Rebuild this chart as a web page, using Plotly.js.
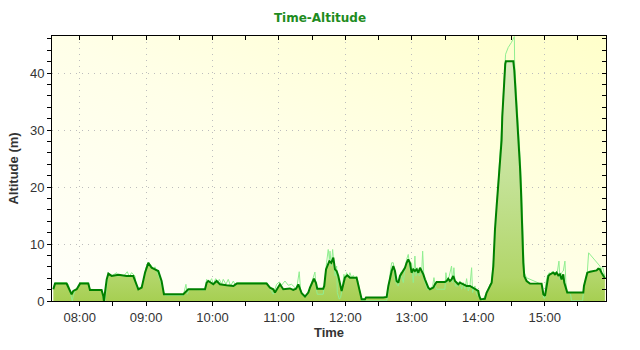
<!DOCTYPE html>
<html>
<head>
<meta charset="utf-8">
<script src="https://cdn.plot.ly/plotly-3.0.1.min.js"></script>
<style>html,body{margin:0;padding:0;background:#fff;}#chart{width:640px;height:350px;}</style>
</head>
<body>
<div id="chart"></div>
<script>
var day = '2024-01-01 ';
// Smoothed altitude (dark green, filled)
var smoothTimes = ['07:36:12','07:37:42','07:48:12','07:50:36','07:52:42','07:54:15','07:57:18','08:00:18','08:07:48','08:09:18','08:19:48','08:21:18','08:21:54','08:22:51','08:24:24','08:25:54','08:28:54','08:35:00','08:42:24','08:48:24','08:50:54','08:53:00','08:56:00','08:59:00','09:02:00','09:05:00','09:08:00','09:11:00','09:14:00','09:16:06','09:33:36','09:36:36','09:38:06','09:53:12','09:54:42','09:56:12','10:00:42','10:03:42','10:06:42','10:12:42','10:18:48','10:21:48','10:48:54','10:51:54','10:54:54','10:56:24','10:59:24','11:00:54','11:03:54','11:09:54','11:12:54','11:15:24','11:17:30','11:19:00','11:20:30','11:23:30','11:25:00','11:26:30','11:28:00','11:30:24','11:31:36','11:33:24','11:34:36','11:40:00','11:40:54','11:42:30','11:44:00','11:45:30','11:47:18','11:49:06','11:50:36','11:52:06','11:53:36','11:55:06','11:56:36','11:58:06','11:59:36','12:01:42','12:04:06','12:10:06','12:11:36','12:13:06','12:14:42','12:17:42','12:18:36','12:34:12','12:37:18','12:38:48','12:40:18','12:41:48','12:43:18','12:44:48','12:46:18','12:47:48','12:49:18','12:52:18','12:53:48','12:55:18','12:56:48','12:58:18','12:59:48','13:01:18','13:02:48','13:04:24','13:05:54','13:07:24','13:08:54','13:10:24','13:11:54','13:13:24','13:14:54','13:16:24','13:19:24','13:20:54','13:22:24','13:29:54','13:31:24','13:32:54','13:34:24','13:35:54','13:37:30','13:39:00','13:40:30','13:42:00','13:43:30','13:46:30','13:49:30','13:52:30','13:55:30','13:58:30','14:00:00','14:00:54','14:02:06','14:04:00','14:06:00','14:07:30','14:09:54','14:10:36','14:12:06','14:13:36','14:14:12','14:15:06','14:16:36','14:18:06','14:19:36','14:21:06','14:21:42','14:22:36','14:23:30','14:24:24','14:25:00','14:31:42','14:32:36','14:34:06','14:35:18','14:36:12','14:37:06','14:37:42','14:38:36','14:39:12','14:39:48','14:40:42','14:41:36','14:43:42','14:46:42','14:57:12','14:58:06','14:58:48','15:00:18','15:01:12','15:02:24','15:03:18','15:04:48','15:06:18','15:07:48','15:09:18','15:10:48','15:12:18','15:13:48','15:15:18','15:16:48','15:17:42','15:19:12','15:20:24','15:34:54','15:35:30','15:37:00','15:38:30','15:40:54','15:45:24','15:46:54','15:48:24','15:49:54','15:51:24','15:52:54','15:54:24'];
var smoothAlt = [2.06,3.05,3.05,2.06,1.19,1.77,2.06,3.05,3.05,1.94,1.94,0.89,0.0,1.48,3.8,4.8,4.4,4.6,4.4,4.4,3.22,2.06,2.35,4.97,6.7,5.84,5.55,5.26,3.51,1.19,1.19,1.77,2.06,2.06,3.22,3.51,2.93,3.51,2.93,2.76,2.64,3.05,3.05,2.35,2.06,1.48,2.35,2.93,2.06,2.2,1.94,2.17,2.9,2.06,1.36,0.78,1.19,1.48,2.35,3.2,3.9,3.2,2.17,2.17,2.64,5.55,6.42,7.0,6.71,7.6,5.55,5.26,4.39,3.22,1.77,2.93,4.1,4.5,4.1,4.1,2.93,1.48,0.32,0.32,0.6,0.6,0.72,2.64,4.1,5.26,6.13,5.26,3.51,3.22,4.39,5.26,5.84,6.71,7.3,6.71,4.97,5.55,5.26,5.55,4.97,5.84,5.26,4.68,3.8,2.93,2.35,2.06,2.35,2.93,3.34,3.34,3.51,3.92,3.51,3.8,4.39,3.51,3.22,2.93,3.22,2.93,2.64,2.64,2.35,2.06,1.77,0.9,0.32,0.35,0.4,1.45,2.3,2.6,3.2,6.1,9.6,12.5,16.6,20.65,24.1,28.2,32.3,35.8,38.7,41.6,42.06,42.06,40.4,35.8,32.3,29.96,26.5,23.6,19.5,14.8,9.6,6.7,4.36,3.5,3.08,3.05,2.06,1.19,0.9,2.06,3.8,4.39,4.68,4.85,4.97,4.68,4.97,4.5,4.68,3.8,4.68,3.22,2.35,1.48,1.48,2.64,3.8,4.97,5.14,5.26,5.37,5.66,5.55,4.97,4.5,4.0];
// Raw altitude (light green)
var rawTimes = ['07:36:12','07:37:42','07:48:12','07:49:42','07:51:12','07:53:18','07:54:15','07:55:45','07:58:48','08:00:18','08:07:48','08:09:18','08:19:48','08:21:18','08:22:51','08:24:24','08:25:54','08:28:54','08:33:24','08:34:54','08:36:24','08:39:24','08:43:00','08:44:48','08:46:54','08:49:54','08:51:24','08:54:24','08:57:24','08:59:48','09:02:00','09:05:00','09:06:30','09:08:00','09:09:30','09:12:30','09:14:54','09:17:00','09:33:36','09:36:00','09:37:12','09:39:00','09:53:12','09:54:42','09:57:06','09:59:12','10:00:42','10:02:48','10:04:36','10:06:06','10:08:12','10:09:42','10:12:06','10:14:12','10:16:18','10:18:48','10:20:36','10:22:24','10:48:54','10:51:54','10:54:54','10:57:54','11:00:18','11:02:24','11:05:24','11:08:24','11:11:24','11:15:54','11:18:18','11:19:30','11:21:54','11:25:00','11:26:30','11:28:36','11:31:00','11:32:30','11:33:24','11:34:36','11:40:00','11:41:30','11:43:00','11:44:30','11:45:30','11:46:06','11:47:18','11:48:30','11:49:42','11:50:36','11:52:06','11:52:42','11:54:30','11:55:42','11:57:30','11:58:42','11:59:36','12:01:06','12:02:36','12:04:06','12:05:36','12:07:06','12:08:36','12:10:06','12:11:36','12:13:06','12:14:42','12:37:18','12:38:48','12:40:18','12:41:48','12:43:18','12:44:48','12:46:18','12:47:48','12:49:54','12:52:18','12:53:48','12:55:18','12:56:48','12:58:18','12:59:48','13:01:18','13:02:48','13:03:42','13:04:54','13:06:48','13:08:54','13:09:48','13:11:00','13:12:48','13:14:00','13:16:24','13:18:48','13:20:00','13:21:12','13:22:24','13:29:54','13:30:48','13:32:00','13:33:48','13:35:54','13:36:48','13:38:00','13:39:18','13:42:00','13:43:30','13:45:00','13:46:30','13:48:00','13:49:30','13:51:00','13:52:30','13:54:00','13:54:54','13:57:00','13:58:30','14:00:00','14:01:30','14:03:54','14:06:54','14:09:00','14:10:30','14:12:00','14:13:36','14:15:06','14:16:36','14:18:06','14:19:00','14:20:12','14:21:06','14:22:00','14:22:54','14:23:48','14:24:42','14:27:06','14:30:06','14:32:36','14:32:54','14:33:48','14:34:42','14:36:12','14:37:24','14:38:18','14:39:12','14:39:48','14:40:24','14:41:00','14:41:36','14:43:42','14:49:42','14:57:12','14:58:06','14:59:24','15:00:18','15:01:12','15:02:24','15:04:12','15:05:24','15:07:12','15:08:24','15:11:24','15:12:54','15:13:48','15:15:18','15:16:48','15:18:18','15:19:12','15:20:24','15:23:24','15:24:18','15:34:18','15:35:30','15:37:18','15:38:30','15:39:42','15:49:54','15:50:48','15:52:18','15:53:30','15:54:24'];
var rawAlt = [2.06,3.22,3.22,2.93,1.77,0.0,0.89,1.77,2.35,3.22,3.22,2.06,1.94,0.3,0.0,3.22,4.97,4.4,4.97,4.3,4.68,4.3,5.14,4.3,4.97,4.4,2.35,2.06,3.22,5.84,6.82,6.13,5.55,6.0,5.26,3.8,2.06,1.0,1.0,2.93,1.19,2.06,1.94,3.8,3.22,3.92,2.93,3.92,3.1,3.8,2.93,3.8,2.93,3.8,2.64,3.51,2.76,3.22,3.22,2.06,1.19,2.93,3.34,2.76,3.51,2.76,2.93,2.06,5.14,2.06,0.89,0.89,1.48,2.64,4.39,5.08,2.64,1.19,1.19,4.39,6.71,9.04,7.3,8.75,6.13,9.04,6.42,4.39,6.13,1.48,0.32,0.6,2.64,4.68,3.8,4.97,4.1,4.97,4.1,4.5,3.8,4.39,3.22,1.77,0.03,0.03,1.48,4.68,6.71,6.71,3.8,2.93,2.64,4.97,3.22,5.55,7.3,8.17,5.55,6.71,3.22,7.88,4.39,5.84,4.39,4.97,8.75,3.8,2.93,2.06,2.06,2.64,4.1,2.64,2.06,2.06,4.97,3.22,4.39,6.13,3.22,5.84,2.64,2.64,3.51,2.06,3.22,2.06,3.92,1.77,2.64,5.84,1.48,2.64,1.19,0.9,0.32,0.15,1.19,1.77,2.93,3.22,6.69,11.34,16.0,19.5,23.0,27.05,30.5,34.0,37.5,41.0,43.3,44.5,45.4,46.4,41.6,38.7,35.8,31.7,27.6,23.6,19.5,14.8,10.2,6.69,4.94,4.07,3.5,2.93,1.48,0.43,0.6,3.22,4.39,4.97,4.68,5.26,4.97,5.08,7.0,3.8,4.97,5.26,7.0,3.22,1.48,1.19,0.03,0.03,2.64,4.39,4.97,8.46,6.13,5.26,6.13,4.97,4.39];

var xRange = ['07:35:00','15:55:24'];
var yRange = [0, 46.5];
var chartTitle = 'Time-Altitude';
var xTitle = 'Time';
var yTitle = 'Altitude (m)';

function toDates(arr){ return arr.map(function(t){ return day + t; }); }
var sx = toDates(smoothTimes), rx = toDates(rawTimes), xr = toDates(xRange);

var bgSvg = '<svg xmlns="http://www.w3.org/2000/svg" width="100" height="100" preserveAspectRatio="none">' +
  '<defs><linearGradient id="bg" x1="0" y1="1" x2="1" y2="0">' +
  '<stop offset="0" stop-color="#FFFFFA"/><stop offset="0.5" stop-color="#FFFFE8"/><stop offset="1" stop-color="#FFFFCA"/></linearGradient></defs>' +
  '<rect width="100" height="100" fill="url(#bg)"/></svg>';
var bgSrc = 'data:image/svg+xml;charset=utf-8,' + encodeURIComponent(bgSvg);

var traces = [
  {x: sx, y: smoothAlt, type: 'scatter', mode: 'lines', fill: 'tozeroy',
   line: {width: 0, color: 'rgba(0,0,0,0)'},
   fillgradient: {type: 'vertical', colorscale: [[0, '#a6cf52'], [0.1, '#b2d66a'], [0.5, '#c4e296'], [1, '#dcedc0']]},
   hoverinfo: 'skip', showlegend: false},
  {x: rx, y: rawAlt, type: 'scatter', mode: 'lines', line: {color: '#90EE90', width: 1}, hoverinfo: 'skip', showlegend: false},
  {x: sx, y: smoothAlt, type: 'scatter', mode: 'lines', line: {color: '#008000', width: 2}, hoverinfo: 'skip', showlegend: false},
  {x: [], y: [], xaxis: 'x2', yaxis: 'y2', type: 'scatter', mode: 'lines', hoverinfo: 'skip', showlegend: false}
];

var tickFont = {family: 'Liberation Sans, Arial, sans-serif', size: 13, color: '#333333'};
var titleFont = {family: 'Liberation Sans, Arial, sans-serif', size: 13, color: '#333333', weight: 'bold'};

var layout = {
  width: 640, height: 350,
  margin: {l: 52, r: 34, t: 36, b: 49, pad: 0},
  paper_bgcolor: '#ffffff', plot_bgcolor: 'rgba(0,0,0,0)',
  title: {text: chartTitle, x: 0.5, xanchor: 'center', y: 1 - 18/350, yanchor: 'middle',
          font: {family: 'DejaVu Sans, Verdana, sans-serif', size: 12, color: '#1E8C1E', weight: 'bold'}},
  images: [{source: bgSrc, xref: 'paper', yref: 'paper', x: 0, y: 1, sizex: 1, sizey: 1,
            sizing: 'stretch', layer: 'below', xanchor: 'left', yanchor: 'top'}],
  xaxis: {type: 'date', range: xr, tickformat: '%H:%M', tick0: day + '08:00:00', dtick: 3600000,
          ticks: 'outside', ticklen: 4, tickcolor: '#000', tickwidth: 1,
          showline: true, linecolor: '#000', linewidth: 1, mirror: true,
          showgrid: true, gridcolor: '#BDBDBD', griddash: '1px,5px', gridwidth: 1, zeroline: false,
          minor: {dtick: 1800000, ticks: 'outside', ticklen: 4, tickcolor: '#000', showgrid: false},
          tickfont: tickFont, title: {text: xTitle, font: titleFont, standoff: 4}},
  yaxis: {range: yRange, dtick: 10, tick0: 0, ticks: 'outside', ticklen: 4, tickcolor: '#000',
          showline: true, linecolor: '#000', linewidth: 1, mirror: true,
          showgrid: true, gridcolor: '#BDBDBD', griddash: '1px,5px', gridwidth: 1, zeroline: false,
          minor: {dtick: 2, ticks: 'outside', ticklen: 4, tickcolor: '#000', showgrid: false},
          tickfont: tickFont, title: {text: yTitle, font: titleFont, standoff: 8}},
  xaxis2: {type: 'date', overlaying: 'x', side: 'top', anchor: 'y2', range: xr, tick0: day + '08:00:00', dtick: 1800000,
           ticks: 'inside', ticklen: 4, tickcolor: '#000', showticklabels: false, showgrid: false, zeroline: false, showline: false},
  yaxis2: {overlaying: 'y', side: 'right', anchor: 'x2', range: yRange, tick0: 0, dtick: 2,
           ticks: 'inside', ticklen: 4, tickcolor: '#000', showticklabels: false, showgrid: false, zeroline: false, showline: false},
  showlegend: false
};

Plotly.newPlot('chart', traces, layout, {displayModeBar: false, staticPlot: true});
</script>
</body>
</html>
